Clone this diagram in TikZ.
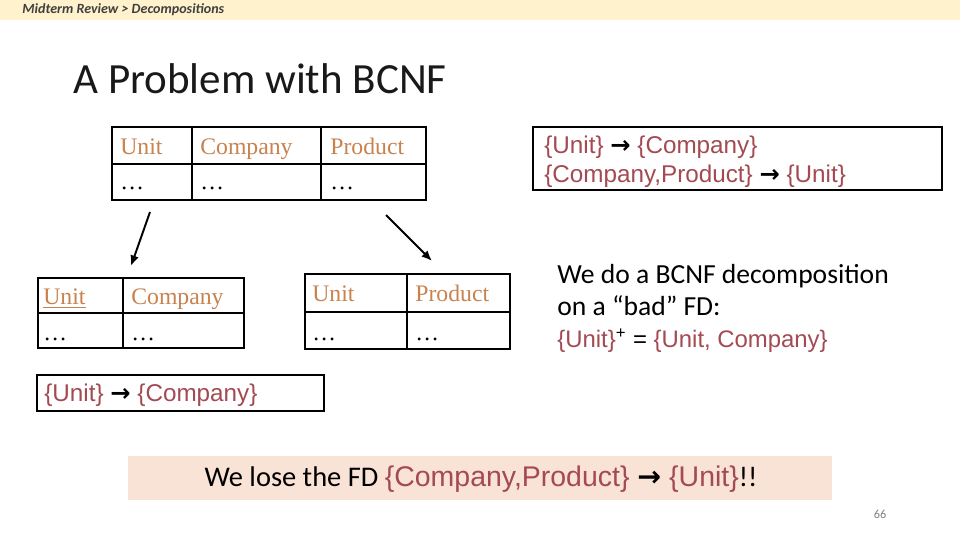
\documentclass[tikz,border=0pt]{standalone}
\usepackage{fontspec}
\setmainfont{Carlito}
\newfontfamily\arialfont{Liberation Sans}
\newfontfamily\timesfont{Liberation Serif}
\newfontfamily\arrowfont{DejaVu Sans}
\usepackage{tikz}
\usetikzlibrary{arrows.meta}

\definecolor{bartan}{HTML}{FFF2CC}
\definecolor{crumbgray}{HTML}{404040}
\definecolor{attrorange}{HTML}{C8824E}
\definecolor{fdred}{HTML}{A34A52}
\definecolor{losepink}{HTML}{F9E3D7}

\newcommand{\fdr}[1]{\textcolor{fdred}{#1}}
\newcommand{\fdto}{{\arrowfont\bfseries →}}

\tikzset{
  attr/.style={font=\timesfont\fontsize{13.5}{16}\selectfont, text=attrorange, anchor=base west, inner sep=0pt},
  cell/.style={font=\timesfont\fontsize{13.5}{16}\selectfont, anchor=base west, inner sep=0pt},
  fdtext/.style={font=\arialfont\fontsize{13.8}{17}\selectfont, anchor=base west, inner sep=0pt},
  bodytext/.style={font=\fontsize{15.7}{19}\selectfont, anchor=base west, inner sep=0pt},
  outerline/.style={line width=1.6pt},
  innerline/.style={line width=1pt},
  splitarrow/.style={-{Latex[length=6pt,width=5pt]}, line width=1.1pt},
}

\begin{document}
\begin{tikzpicture}[x=0.02cm, y=-0.02cm]
    % Fix the page to the slide size
    \useasboundingbox (0,0) rectangle (960,540);
    \fill[white] (0,0) rectangle (960,540);

    % Header bar and title
    \fill[bartan] (0,0) rectangle (960,20);
    \node[anchor=base west, inner sep=0pt, text=crumbgray, font=\fontsize{8}{9}\selectfont\bfseries\itshape] (crumb) at (22,14) {Midterm Review > Decompositions};
    \node[anchor=base west, inner sep=0pt, text=black!90, font=\fontsize{24.5}{28}\selectfont] (title) at (73,94) {A Problem with BCNF};

    % Top: the original relation
    \draw[outerline] (112,127) rectangle (426,200);
    \draw[innerline] (192,127) -- (192,200) (321,127) -- (321,200) (112,164) -- (426,164);
    \node[attr] (t-unit) at (120,155) {Unit};
    \node[attr] (t-comp) at (200,155) {Company};
    \node[attr] (t-prod) at (330,155) {Product};
    \node[cell] (t-d1) at (120,190) {…};
    \node[cell] (t-d2) at (200,190) {…};
    \node[cell] (t-d3) at (330,190) {…};

    % FDs on the original relation
    \draw[line width=0.6pt] (533,127) rectangle (942,190);
    \node[fdtext] (fd1) at (544,154) {\fdr{\{Unit\}} \fdto{} \fdr{\{Company\}}};
    \node[fdtext] (fd2) at (544,183) {\fdr{\{Company,Product\}} \fdto{} \fdr{\{Unit\}}};

    % Split arrows
    \coordinate (l-from) at (150,212);
    \coordinate (l-to) at (131,266);
    \coordinate (r-from) at (386,215);
    \coordinate (r-to) at (432,261);
    \draw[splitarrow] (l-from) -- (l-to);
    \draw[splitarrow] (r-from) -- (r-to);

    % Bottom left: (Unit, Company)
    \draw[outerline] (38,278) rectangle (244,348);
    \draw[innerline] (123,278) -- (123,348) (38,313) -- (244,313);
    \node[attr] (l-unit) at (43,305) {\underline{Unit}};
    \node[attr] (l-comp) at (131,305) {Company};
    \node[cell] (l-d1) at (43,341) {…};
    \node[cell] (l-d2) at (131,341) {…};

    % Bottom middle: (Unit, Product)
    \draw[outerline] (305,274) rectangle (510,349);
    \draw[innerline] (407,274) -- (407,349) (305,312) -- (510,312);
    \node[attr] (m-unit) at (312,302) {Unit};
    \node[attr] (m-prod) at (415,302) {Product};
    \node[cell] (m-d1) at (312,341) {…};
    \node[cell] (m-d2) at (415,341) {…};

    % Explanation on the right
    \node[bodytext] (why1) at (557,284) {We do a BCNF decomposition};
    \node[bodytext] (why2) at (557,316) {on a “bad” FD:};
    \node[fdtext, font=\arialfont\fontsize{13.6}{17}\selectfont] (closure) at (557,348) {\fdr{\{Unit\}}\textsuperscript{+} = \fdr{\{Unit, Company\}}};

    % FD kept in the left relation
    \draw[line width=0.6pt] (37,375) rectangle (324,411);
    \node[fdtext] (fd-kept) at (44,401) {\fdr{\{Unit\}} \fdto{} \fdr{\{Company\}}};

    % The lost FD
    \fill[losepink] (128,456) rectangle (832,500);
    \node[inner sep=0pt, font=\fontsize{16.2}{19}\selectfont] (lost) at (481,479) {We lose the FD {\arialfont\fdr{\{Company,Product\}} \fdto{} \fdr{\{Unit\}}}!!};

    % Slide number
    \node[text=gray, font=\fontsize{7}{8}\selectfont] (pagenum) at (880,514) {66};
\end{tikzpicture}
\end{document}
